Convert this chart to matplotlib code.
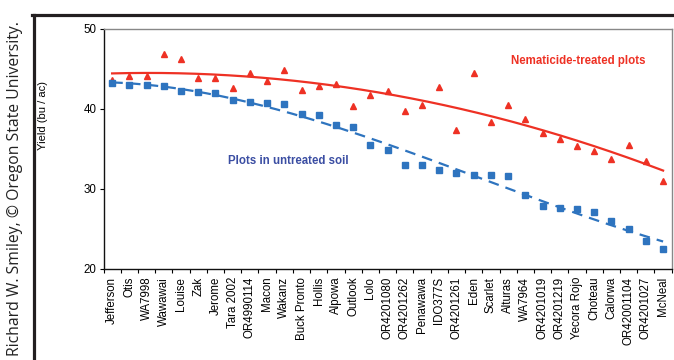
import numpy as np
import matplotlib
matplotlib.use("Agg")
import matplotlib.pyplot as plt
from matplotlib.lines import Line2D

# wheat varieties and grain yield (bu/ac)
varieties = ["Jefferson", "Otis", "WA7998", "Wawawai", "Louise", "Zak", "Jerome",
             "Tara 2002", "OR4990114", "Macon", "Wakanz", "Buck Pronto", "Hollis",
             "Alpowa", "Outlook", "Lolo", "OR4201080", "OR4201262", "Penawawa",
             "IDO377S", "OR4201261", "Eden", "Scarlet", "Alturas", "WA7964",
             "OR4201019", "OR4201219", "Yecora Rojo", "Choteau", "Calorwa",
             "OR42001104", "OR4201027", "McNeal"]
treated = [43.6, 44.1, 44.1, 46.85, 46.2, 43.8, 43.8, 42.6, 44.5, 43.5, 44.8,
           42.3, 42.8, 43.1, 40.3, 41.75, 42.2, 39.7, 40.4, 42.7, 37.3, 44.4,
           38.3, 40.4, 38.7, 37.0, 36.2, 35.3, 34.7, 33.75, 35.4, 33.4, 30.9]
untreated = [43.15, 42.9, 42.9, 42.8, 42.2, 42.1, 41.9, 41.1, 40.8, 40.65, 40.55,
             39.35, 39.2, 37.9, 37.7, 35.4, 34.8, 33.0, 32.9, 32.3, 32.0, 31.7,
             31.65, 31.55, 29.2, 27.8, 27.6, 27.5, 27.05, 25.9, 25.0, 23.4, 22.5]

red = "#ee3124"
blue = "#2e74bf"

plt.rcParams["font.family"] = ["Liberation Sans", "DejaVu Sans"]

fig = plt.figure(figsize=(6.74, 3.6), dpi=100)
ax = fig.add_axes([103.5 / 674, 1 - 268.5 / 360, (671.7 - 103.5) / 674, 240 / 360])

x = np.arange(len(varieties))
# polynomial trend lines (like the spreadsheet trendline)
pt = np.polyfit(x, treated, 2)
pu = np.polyfit(x, untreated, 3)
xf = np.linspace(0, len(varieties) - 1, 200)

ax.plot(xf, np.polyval(pt, xf), color=red, lw=1.6, zorder=2)
ax.plot(xf, np.polyval(pu, xf), color=blue, lw=1.6, dashes=(4.8, 3.2), zorder=2)
ax.plot(x, treated, "^", color=red, ms=4.2, mec=red, zorder=3)
ax.plot(x, untreated, "s", color=blue, ms=3.8, mec=blue, zorder=3)

ax.set_xlim(-0.5, len(varieties) - 0.5)
ax.set_ylim(20, 50)
ax.set_yticks([20, 30, 40, 50])
ax.set_xticks(x)
ax.set_xticklabels(varieties, rotation=90, fontsize=8.3)
ax.set_xticks(np.arange(-0.5, len(varieties), 1), minor=True)
ax.tick_params(axis="x", which="major", length=0, pad=6)
ax.tick_params(axis="x", which="minor", length=3, width=0.8)
ax.tick_params(axis="y", length=3, width=0.8, labelsize=8.3, pad=2)

for s in ["left", "bottom"]:
    ax.spines[s].set_color("#111111")
    ax.spines[s].set_linewidth(1.0)
for s in ["top", "right"]:
    ax.spines[s].set_color("#888888")
    ax.spines[s].set_linewidth(1.0)

ax.text(23.17, 45.9, "Nematicide-treated plots", color=red, fontsize=8.3,
        fontweight="bold", va="center")
ax.text(6.73, 33.4, "Plots in untreated soil", color="#3b4ea3", fontsize=8.3,
        fontweight="bold", va="center")

fig.text(43 / 674, 1 - 115 / 360, "Yield (bu / ac)", rotation=90, fontsize=8,
         ha="center", va="center")

# photo frame and credit line
fig.add_artist(Line2D([32 / 674, 1], [1 - 14.7 / 360] * 2, color="#231f20", lw=2.3))
fig.add_artist(Line2D([33.8 / 674] * 2, [0, 1 - 14.7 / 360], color="#231f20", lw=2.3))
fig.text(15 / 674, 1 - 21 / 360, "Richard W. Smiley, \u00a9 Oregon State University.",
         rotation=90, fontsize=11.3, family=["Open Sans", "DejaVu Sans"],
         ha="center", va="top", color="#222222")

fig.savefig("out.png", dpi=100)
